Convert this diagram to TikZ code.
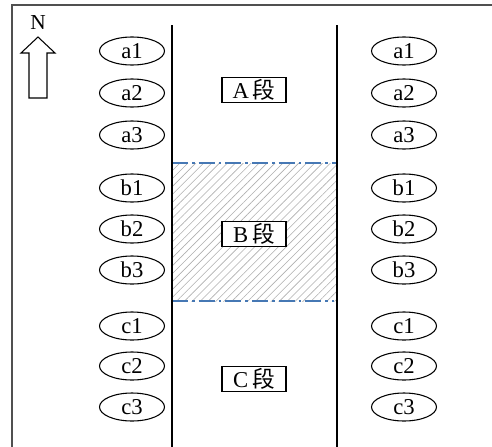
\documentclass[tikz,border=0pt]{standalone}
\usepackage{fontspec}
\setmainfont{Liberation Serif}
\newfontfamily\cjkfont{Noto Sans CJK SC}
\usetikzlibrary{shapes.geometric, patterns.meta}
\definecolor{cFrame}{RGB}{80,80,80}
\definecolor{cZone}{RGB}{70,120,180}
\definecolor{cHatch}{RGB}{175,175,175}
\tikzset{
	well/.style   ={ellipse, draw=black, line width=0.8pt, minimum width=65*0.75pt, minimum height=28*0.75pt, inner sep=0pt, font=\fontsize{17}{19}\selectfont},
	seglabel/.style={rectangle, draw=black, line width=0.8pt, fill=white, minimum width=64*0.75pt, minimum height=25*0.75pt, inner sep=0.5pt, font=\fontsize{17}{19}\selectfont},
	bank/.style   ={line width=2.2pt, black},
	zoneline/.style={cZone, line width=1.3pt, dash pattern=on 12pt off 3pt on 2pt off 3pt},
}
\begin{document}
\begin{tikzpicture}[x=0.75pt, y=-0.75pt]
	\useasboundingbox (0,0) rectangle (492,446);
	% frame
	\draw[cFrame, line width=1.3pt] (12,460) -- (12,5) -- (510,5);
	% north arrow
	\draw[line width=0.8pt] (29,98) -- (29,53) -- (21,53) -- (38,37) -- (55,53) -- (47,53) -- (47,98) -- cycle;
	\node[font=\fontsize{16}{18}\selectfont] (north) at (38,23) {N};
	% hatched B zone
	\fill[pattern={Lines[angle=45, distance=4.2pt, line width=0.45pt]}, pattern color=cHatch] (172,163) rectangle (337,301);
	\draw[zoneline] (172,163) -- (337,163);
	\draw[zoneline] (172,301) -- (334,301);
	% banks
	\draw[bank] (172,25) -- (172,450);
	\draw[bank] (337,25) -- (337,450);
	% wells on both sides
	\foreach \name/\yy in {a1/51, a2/93, a3/135, b1/188, b2/229, b3/270, c1/326, c2/366, c3/407} {
		\node[well] (left-\name) at (132,\yy) {\name};
		\node[well] (right-\name) at (404,\yy) {\name};
	}
	% segment labels
	\node[seglabel] (segA) at (254,90) {A\,{\cjkfont 段}};
	\node[seglabel] (segB) at (254,234) {B\,{\cjkfont 段}};
	\node[seglabel] (segC) at (254,379) {C\,{\cjkfont 段}};
\end{tikzpicture}
\end{document}
